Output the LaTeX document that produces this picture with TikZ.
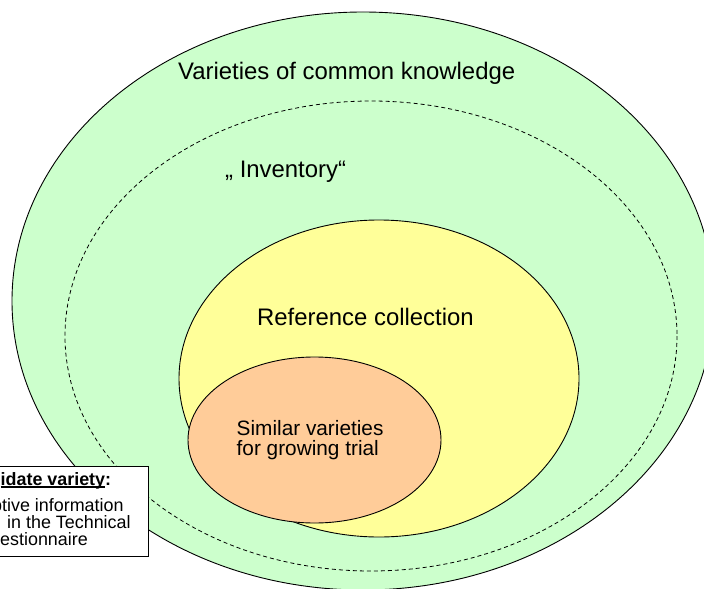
\documentclass[tikz,border=0pt]{standalone}
\usepackage{fontspec}
\setmainfont{Liberation Sans}
\definecolor{cgreen}{RGB}{204,255,204}
\definecolor{cyellow}{RGB}{255,255,153}
\definecolor{corange}{RGB}{255,204,153}
\newcommand\myul[1]{\setbox0\hbox{#1}\rlap{\rule[-2.2bp]{\wd0}{1.3bp}}\box0}
\tikzset{
  outline/.style={draw=black, line width=0.9bp},
  dashline/.style={draw=black, line width=0.8bp, dash pattern=on 4bp off 3bp},
  biglabel/.style={anchor=base west, inner sep=0pt, font=\fontsize{23.9bp}{28bp}\selectfont},
  midlabel/.style={anchor=base west, inner sep=0pt, align=left, font=\fontsize{20.8bp}{19.5bp}\selectfont},
  boxtext/.style={anchor=base west, inner sep=0pt, font=\fontsize{17.9bp}{18bp}\selectfont},
}
\begin{document}
\begin{tikzpicture}[x=1bp, y=-1bp]
\clip (0,0) rectangle (704,589);
% outer ellipse: varieties of common knowledge
\fill[cgreen] (363,301) ellipse [x radius=351, y radius=289];
\draw[outline] (363,301) ellipse [x radius=351, y radius=289];
% dashed inventory ellipse
\draw[dashline] (371,336) ellipse [x radius=306, y radius=235];
% reference collection
\draw[outline, fill=cyellow] (379,378.5) ellipse [x radius=200, y radius=158.5];
% similar varieties
\draw[outline, fill=corange] (314.5,440) ellipse [x radius=126.5, y radius=83];
% labels
\node[biglabel] (vck) at (178,80) {Varieties of common knowledge};
\node[biglabel] (inv) at (225,177.3) {„ Inventory“};
\node[biglabel] (ref) at (257,325.5) {Reference collection};
\node[midlabel] (sim) at (236.5,455.2) {Similar varieties\\for growing trial};
% candidate variety box
\draw[outline, fill=white] (-10,466.7) rectangle (148.5,556.5);
\node[boxtext] (cand) at (0.5,485.5) {\textbf{\myul{\llap{Cand}idate variety}:}};
\node[boxtext] (desc) at (2,511) {\llap{Descrip}tive information};
\node[boxtext] (tech) at (7,528) {in the Technical};
\node[boxtext] (ques) at (0,545) {\llap{Qu}estionnaire};
\end{tikzpicture}
\end{document}
